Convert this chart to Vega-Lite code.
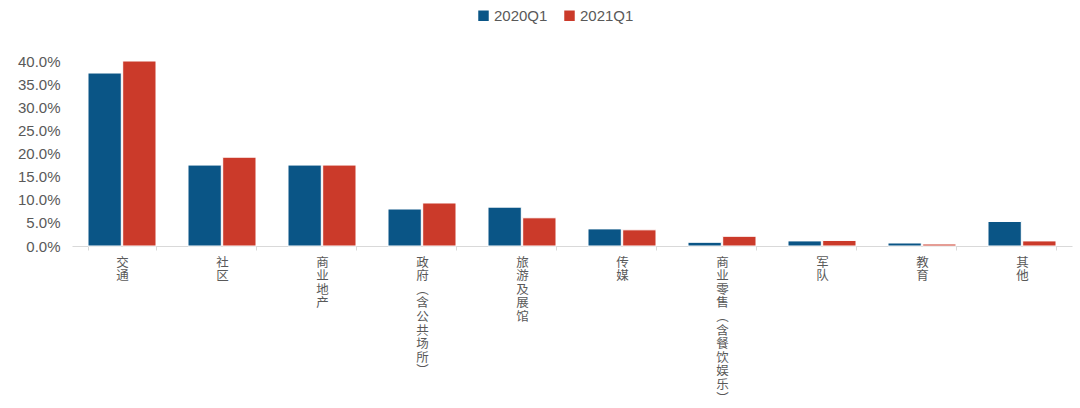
{
  "$schema": "https://vega.github.io/schema/vega-lite/v6.json",
  "width": 1000,
  "height": 185,
  "autosize": "none",
  "padding": {"left": 72, "top": 61, "right": 8, "bottom": 162},
  "config": {
    "view": {"stroke": null},
    "font": "Noto Sans CJK SC"
  },
  "data": {
    "values": [
      {"cat": "交通", "period": "2020Q1", "share": 0.374},
      {"cat": "交通", "period": "2021Q1", "share": 0.400},
      {"cat": "社区", "period": "2020Q1", "share": 0.175},
      {"cat": "社区", "period": "2021Q1", "share": 0.192},
      {"cat": "商业地产", "period": "2020Q1", "share": 0.175},
      {"cat": "商业地产", "period": "2021Q1", "share": 0.175},
      {"cat": "政府︵含公共场所︶", "period": "2020Q1", "share": 0.080},
      {"cat": "政府︵含公共场所︶", "period": "2021Q1", "share": 0.093},
      {"cat": "旅游及展馆", "period": "2020Q1", "share": 0.084},
      {"cat": "旅游及展馆", "period": "2021Q1", "share": 0.061},
      {"cat": "传媒", "period": "2020Q1", "share": 0.037},
      {"cat": "传媒", "period": "2021Q1", "share": 0.035},
      {"cat": "商业零售︵含餐饮娱乐︶", "period": "2020Q1", "share": 0.008},
      {"cat": "商业零售︵含餐饮娱乐︶", "period": "2021Q1", "share": 0.021},
      {"cat": "军队", "period": "2020Q1", "share": 0.011},
      {"cat": "军队", "period": "2021Q1", "share": 0.012},
      {"cat": "教育", "period": "2020Q1", "share": 0.0065},
      {"cat": "教育", "period": "2021Q1", "share": 0.0043},
      {"cat": "其他", "period": "2020Q1", "share": 0.053},
      {"cat": "其他", "period": "2021Q1", "share": 0.011}
    ]
  },
  "mark": {"type": "bar", "stroke": "white", "strokeWidth": 1},
  "encoding": {
    "x": {
      "field": "cat",
      "type": "nominal",
      "sort": null,
      "scale": {"paddingInner": 0.32, "paddingOuter": 0.16},
      "axis": {
        "title": null,
        "labelAngle": 0,
        "labelBaseline": "top",
        "labelExpr": "split(datum.label, '')",
        "labelLineHeight": 13.6,
        "labelFontSize": 12.5,
        "labelColor": "#595959",
        "labelPadding": 6,
        "labelOverlap": false,
        "domainColor": "#d9d9d9",
        "tickColor": "#d9d9d9",
        "tickBand": "extent",
        "tickSize": 4
      }
    },
    "xOffset": {
      "field": "period",
      "type": "nominal",
      "scale": {"paddingInner": 0.04}
    },
    "y": {
      "field": "share",
      "type": "quantitative",
      "scale": {"domain": [0, 0.4], "nice": false},
      "axis": {
        "title": null,
        "format": ".1%",
        "values": [0, 0.05, 0.1, 0.15, 0.2, 0.25, 0.3, 0.35, 0.4],
        "labelOverlap": false,
        "grid": false,
        "domain": false,
        "ticks": false,
        "labelFontSize": 15,
        "labelColor": "#595959",
        "labelPadding": 12,
        "labelFont": "Liberation Sans"
      }
    },
    "color": {
      "field": "period",
      "type": "nominal",
      "scale": {"domain": ["2020Q1", "2021Q1"], "range": ["#0a5586", "#cb3a2a"]},
      "legend": {
        "title": null,
        "orient": "none",
        "direction": "horizontal",
        "legendX": 404,
        "legendY": -53,
        "symbolType": "square",
        "symbolSize": 110,
        "symbolStrokeWidth": 0,
        "labelFontSize": 15,
        "labelColor": "#595959",
        "labelFont": "Liberation Sans",
        "columnPadding": 14,
        "labelOffset": 3
      }
    }
  }
}
